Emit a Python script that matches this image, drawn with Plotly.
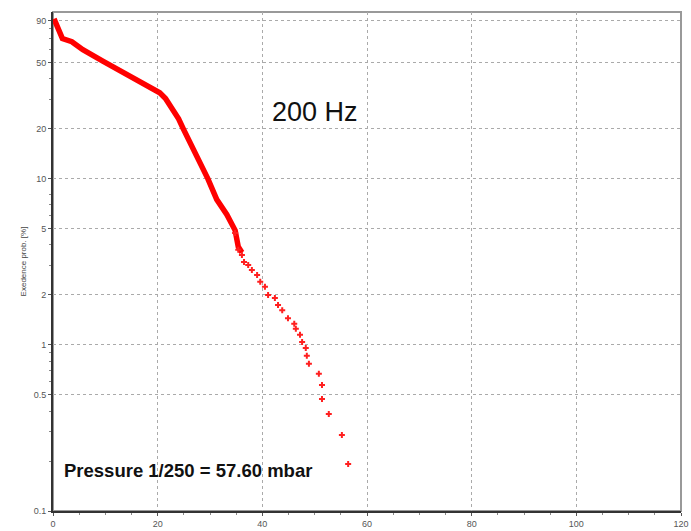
import plotly.graph_objects as go

# Dense part of the exceedance curve
dense_x = [0.2, 0.8, 1.3, 1.8, 3.6, 5.7, 9.6, 12.5, 15.3, 18.5, 20.4, 21.5, 22.9,
           24.0, 24.9, 26.2, 28.1, 29.6, 31.3, 33.2, 34.8, 35.4, 36.1]
dense_y = [92, 82, 74, 70, 67, 60, 51, 45.5, 41, 36, 33, 30.5, 26,
           23, 20, 16.5, 13, 10, 7.5, 6.1, 4.9, 3.9, 3.6]

# Sparse tail points (crosses)
tail_x = [34.8, 35.4, 36.1, 36.5, 37.3, 38.0, 39.0, 39.6, 40.5, 41.1, 42.4, 43.0,
          43.8, 44.9, 46.1, 46.4, 47.2, 47.6, 48.3, 48.5, 48.9, 50.8, 51.4, 51.4,
          52.7, 55.2, 56.4]
tail_y = [4.73, 3.74, 3.48, 3.16, 3.03, 2.83, 2.64, 2.40, 2.24, 2.0, 1.92, 1.74,
          1.62, 1.45, 1.34, 1.25, 1.15, 1.04, 0.96, 0.86, 0.77, 0.67, 0.574, 0.473,
          0.384, 0.287, 0.192]

x_ticks = [0, 20, 40, 60, 80, 100, 120]
y_ticks = [0.1, 0.5, 1, 2, 5, 10, 20, 50, 90]
y_tick_labels = ["0.1", "0.5", "1", "2", "5", "10", "20", "50", "90"]
y_minor = [0.2, 0.3, 0.4, 0.6, 0.7, 0.8, 0.9, 3, 4, 6, 7, 8, 30, 40, 60, 70, 80]

fig = go.Figure()
fig.add_trace(go.Scatter(x=dense_x, y=dense_y, mode="lines",
                         line=dict(color="#ff0000", width=5.5), showlegend=False))
fig.add_trace(go.Scatter(x=tail_x, y=tail_y, mode="markers",
                         marker=dict(symbol="cross", size=5, color="#ff2020",
                                     line=dict(width=0)),
                         showlegend=False))

fig.update_layout(
    width=691, height=531,
    margin=dict(l=53, r=10, t=12, b=20),
    paper_bgcolor="white", plot_bgcolor="white",
    font=dict(family="Liberation Sans, Arial, sans-serif", color="#555"),
    xaxis=dict(range=[0, 120], tickvals=x_ticks, showgrid=True, automargin=False,
               gridcolor="#aaaaaa", griddash="dot", gridwidth=1,
               showline=True, linecolor="#333", linewidth=2,
               ticks="outside", ticklen=3, tickcolor="#555",
               tickfont=dict(size=9, color="#555"), zeroline=False,
               minor=dict(dtick=5, ticks="outside", ticklen=2, tickcolor="#888",
                          showgrid=False)),
    yaxis=dict(type="log", range=[-1, 2.005], tickvals=y_ticks, automargin=False,
               ticktext=y_tick_labels, showgrid=True,
               gridcolor="#aaaaaa", griddash="dot", gridwidth=1,
               showline=True, linecolor="#333", linewidth=2,
               ticks="outside", ticklen=3, tickcolor="#555",
               tickfont=dict(size=9, color="#555"), zeroline=False,
               title=dict(text="Exedence prob. [%]", font=dict(size=8, color="#444"),
                          standoff=6),
               minor=dict(tickvals=y_minor, ticks="outside", ticklen=2,
                          tickcolor="#888", showgrid=False)),
    shapes=[dict(type="rect", xref="paper", yref="paper", x0=0, y0=0, x1=1, y1=1,
                 line=dict(color="#999", width=2), layer="below")],
    annotations=[
        dict(text="200 Hz", x=315, y=95, xref="paper", yref="paper",
             showarrow=False, font=dict(size=27, color="#111")),
        dict(text="<b>Pressure 1/250 = 57.60 mbar</b>", x=62, y=483,
             xref="paper", yref="paper", showarrow=False, xanchor="left",
             font=dict(size=18.5, color="#111")),
    ],
)

# convert pixel annotation positions to paper coords
pw, ph = 691 - 53 - 10, 531 - 12 - 20
for a in fig.layout.annotations:
    px, py = a.x, a.y
    a.x = (px - 53) / pw
    a.y = 1 - (py - 12) / ph

fig.write_html("out.html", config={"displayModeBar": False},
               post_script="document.body.style.margin='0';document.body.style.overflow='hidden';")
